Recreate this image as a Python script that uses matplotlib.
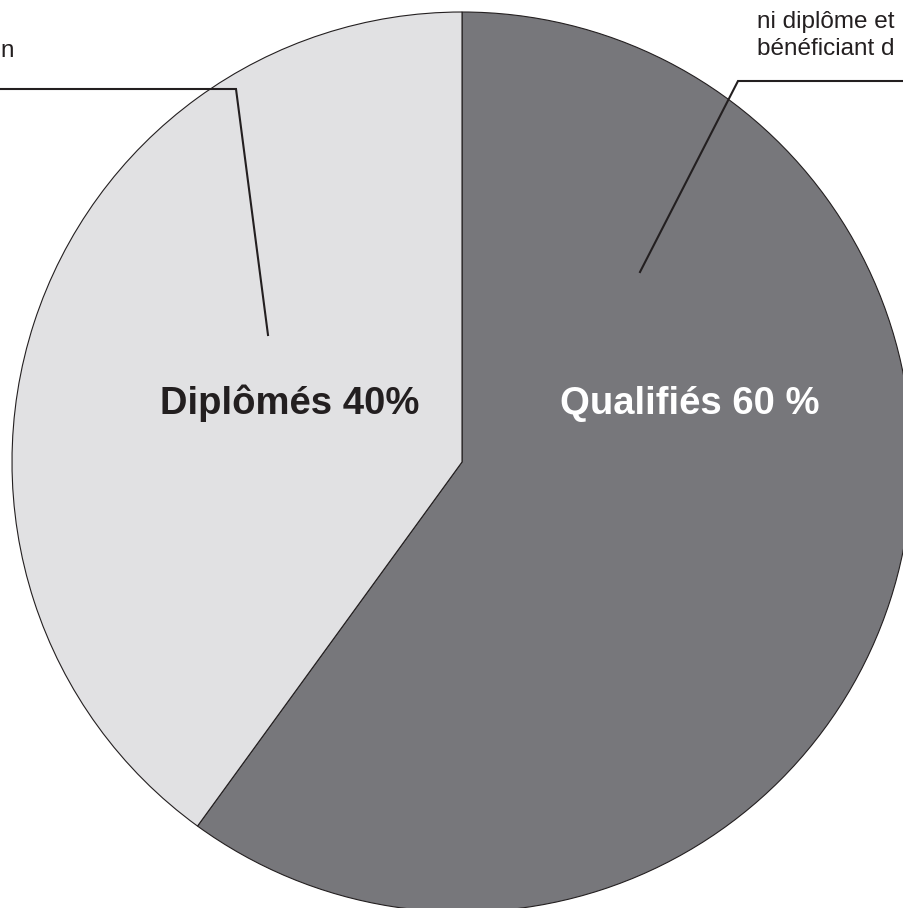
import matplotlib.pyplot as plt

# Data
labels = ["Qualifiés 60 %", "Diplômés 40%"]
shares = [60, 40]
colors = ["#77777b", "#e1e1e3"]
label_colors = ["white", "#231f20"]

# callout texts, as far as they show inside the frame
left_note = "n"
right_note = ["ni diplôme et", "bénéficiant d"]

W, H = 904, 908

fig = plt.figure(figsize=(W / 100, H / 100), dpi=100)
ax = fig.add_axes([0, 0, 1, 1])


def py(y):
    # convert pixel row (from top) to data y
    return H - y


ax.pie(shares, colors=colors, startangle=90, counterclock=False,
       center=(462, py(462)), radius=450, frame=True,
       wedgeprops=dict(edgecolor="#231f20", linewidth=0.8))
ax.set_xlim(0, W)
ax.set_ylim(0, H)
ax.axis("off")

# Bold labels inside the wedges
ax.text(690, py(414), labels[0], color=label_colors[0], fontsize=27.5,
        fontweight="bold", family="Liberation Sans", ha="center", va="baseline")
ax.text(290, py(414), labels[1], color=label_colors[1], fontsize=27.5,
        fontweight="bold", family="Liberation Sans", ha="center", va="baseline")

# Leader lines
ax.plot([0, 236, 268], [py(89), py(89), py(335)], color="#231f20", lw=1.5,
        solid_joinstyle="miter")
ax.plot([640, 738, W + 5], [py(272), py(81), py(81)], color="#231f20", lw=1.5,
        solid_joinstyle="miter")

# Callout texts
ax.text(0, py(57), left_note, color="#231f20", fontsize=17.5,
        family="Liberation Sans", ha="left", va="baseline")
ax.text(757, py(28), right_note[0], color="#231f20",
        fontsize=17.5, family="Liberation Sans", ha="left", va="baseline")
ax.text(757, py(55), right_note[1], color="#231f20",
        fontsize=17.5, family="Liberation Sans", ha="left", va="baseline")

fig.savefig("out.png", dpi=100)
